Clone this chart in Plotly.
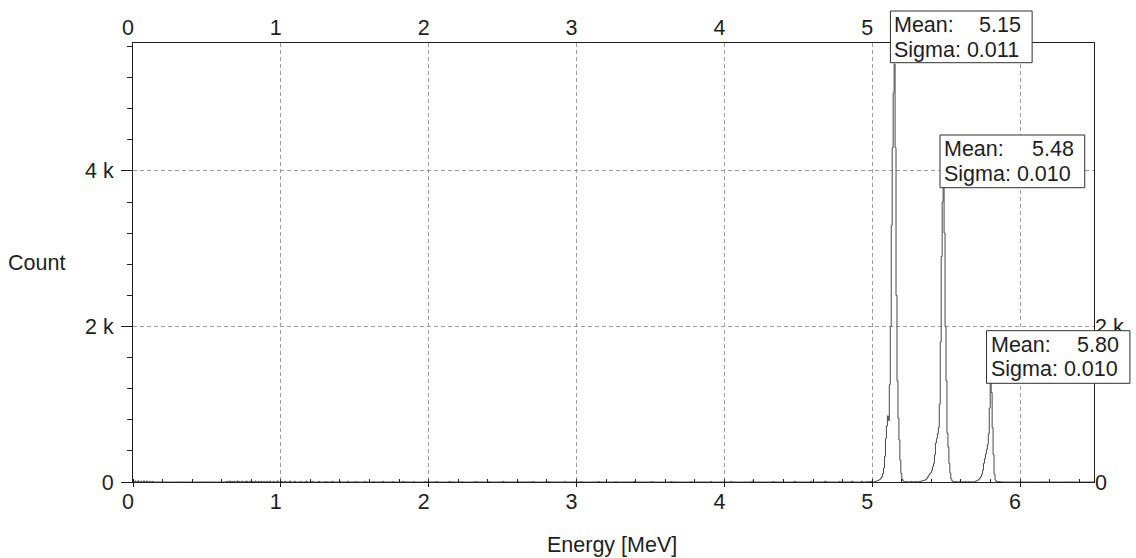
import numpy as np
import plotly.graph_objects as go

# Spectrum binning: 1000 channels over 0 - 6.5 MeV
E_MIN, E_MAX, N_BINS = 0.0, 6.5, 1000

# Sparse low-level counts: (channel, counts)
noise = [
    (2, 14), (5, 16), (8, 12), (11, 15), (14, 13), (17, 10), (20, 8),
    (97, 6), (99, 9), (101, 12), (103, 8), (105, 10), (108, 14), (110, 9),
    (113, 11), (116, 8), (118, 12), (121, 10), (124, 7), (127, 13), (130, 9),
    (133, 11), (136, 8), (139, 10), (142, 12), (146, 9), (150, 14), (154, 8),
    (158, 10), (163, 12), (168, 9), (174, 7), (180, 11), (186, 8), (193, 10),
    (200, 6), (207, 9), (215, 7), (223, 10), (232, 6), (241, 8), (250, 5),
    (260, 9), (270, 6), (281, 7), (292, 5), (304, 8), (316, 6), (329, 7),
    (342, 5), (356, 6), (370, 4), (385, 7), (400, 5), (416, 6), (432, 4),
    (449, 6), (466, 5), (484, 7), (502, 4), (521, 6), (540, 5), (560, 7),
    (580, 5), (601, 8), (622, 6), (644, 9), (666, 7), (688, 10), (705, 8),
    (720, 11), (735, 9), (748, 12), (758, 10), (763, 6), (766, 8), (768, 7),
    (804, 6), (806, 4), (809, 8), (811, 5), (814, 7), (816, 4),
    (855, 6), (857, 4), (860, 7), (863, 5), (866, 8), (869, 5), (872, 4),
    (899, 4), (901, 6), (903, 3),
]

# Pu-239 group (5.15 MeV): first channel and counts per channel
pu_start = 772
pu_counts = [8, 12, 15, 20, 28, 36, 50, 70, 110, 180, 330, 560, 720, 850, 790,
             1250, 2000, 3300, 4300, 5000, 5376, 4300, 2400, 1300, 820, 540,
             280, 110, 40, 15, 5]

# Am-241 group (5.48 MeV)
am_start = 818
am_counts = [5, 8, 12, 15, 18, 22, 25, 35, 50, 70, 90, 110, 120, 150, 200, 240,
             350, 500, 560, 620, 700, 1000, 1800, 2900, 3600, 3800, 3200, 2000,
             1300, 630, 450, 240, 115, 40, 15, 5]

# Cm-244 group (5.80 MeV)
cm_start = 875
cm_counts = [5, 8, 12, 18, 25, 35, 50, 70, 100, 150, 240, 300, 360, 420, 480,
             620, 950, 1270, 1150, 700, 350, 100, 25, 8]

# Gaussian fit results per peak
fit_means = [5.15, 5.48, 5.80]
fit_sigmas = [0.011, 0.010, 0.010]

# Axis ticks
x_ticks = [0, 1, 2, 3, 4, 5, 6]
y_ticks = [0, 2000, 4000]
y_ticktext = ["0", "2 k", "4 k"]
y2_ticks = [0, 2000]
y2_ticktext = ["0", "2 k"]
Y_MAX = 5645

# ---- build the histogram ----
counts = np.zeros(N_BINS)
for ch, c in noise:
    counts[ch] = c
for start, vals in ((pu_start, pu_counts), (am_start, am_counts), (cm_start, cm_counts)):
    counts[start:start + len(vals)] = vals

edges = np.linspace(E_MIN, E_MAX, N_BINS + 1)
step_y = np.append(counts, counts[-1])

FONT = "Liberation Sans, Arial, sans-serif"
FS = 21.5
TXT = "#1e1e1e"
AX = "#202020"
GRID = "#9c9c9c"

W_FIG, H_FIG = 1136, 558
L, R, T, B = 133, 40, 43, 76
PW, PH = W_FIG - L - R, H_FIG - T - B


def px_x(px):
    return (px - L) / PW


def px_y(py):
    return (H_FIG - B - py) / PH


fig = go.Figure()
fig.add_trace(go.Scatter(
    x=edges, y=step_y, mode="lines", line=dict(shape="hv", color="#484848", width=1),
    hoverinfo="skip", showlegend=False,
))
# carrier for the top and right axes
fig.add_trace(go.Scatter(
    x=[0], y=[0], xaxis="x2", yaxis="y2", mode="lines", line=dict(width=0),
    hoverinfo="skip", showlegend=False,
))

tickfont = dict(family=FONT, size=FS, color=TXT)

fig.update_layout(
    width=W_FIG, height=H_FIG,
    margin=dict(l=L, r=R, t=T, b=B, pad=0),
    paper_bgcolor="white", plot_bgcolor="white",
    showlegend=False,
    xaxis=dict(
        range=[E_MIN, E_MAX], tickvals=x_ticks, ticks="outside", ticklen=4,
        tickcolor=AX, tickwidth=1, showline=True, linecolor=AX, linewidth=1,
        mirror=True, showgrid=True, gridcolor=GRID, gridwidth=1, griddash="4px,3px",
        zeroline=False, tickfont=tickfont, ticklabelshift=-5, ticklabelstandoff=-4,
        minor=dict(dtick=0.2, ticks="inside", ticklen=3, tickcolor=AX, showgrid=False),
    ),
    yaxis=dict(
        range=[0, Y_MAX], tickvals=y_ticks, ticktext=y_ticktext, ticks="outside",
        ticklen=11, tickcolor=AX, tickwidth=1, showline=True, linecolor=AX,
        linewidth=1, mirror=True, showgrid=True, gridcolor=GRID, gridwidth=1,
        griddash="4px,3px", zeroline=False, tickfont=tickfont, ticklabelstandoff=3,
        minor=dict(dtick=400, ticks="outside", ticklen=5, tickcolor=AX, showgrid=False),
    ),
    xaxis2=dict(
        range=[E_MIN, E_MAX], tickvals=x_ticks, overlaying="x", side="top",
        anchor="y2", ticks="", showline=False, showgrid=False, zeroline=False,
        tickfont=tickfont, ticklabelshift=-5, ticklabelstandoff=3,
    ),
    yaxis2=dict(
        range=[0, Y_MAX], tickvals=y2_ticks, ticktext=y2_ticktext, overlaying="y",
        side="right", anchor="x2", ticks="", showline=False, showgrid=False,
        zeroline=False, tickfont=tickfont,
    ),
)

# axis titles
fig.add_annotation(text="Count", xref="paper", yref="paper", x=px_x(6), y=px_y(263),
                   xanchor="left", yanchor="middle", showarrow=False,
                   font=dict(family=FONT, size=FS, color=TXT))
fig.add_annotation(text="Energy [MeV]", xref="paper", yref="paper", x=px_x(613),
                   y=px_y(545), xanchor="center", yanchor="middle", showarrow=False,
                   font=dict(family=FONT, size=FS, color=TXT))

# fit result boxes: (left, top, right, bottom) in pixels
boxes = [(892, 11, 1034, 62.7), (941.7, 135, 1086.7, 187.7), (988.3, 330.7, 1132, 383.3)]
for (bl, bt, br, bb), m, s in zip(boxes, fit_means, fit_sigmas):
    fig.add_shape(type="rect", xref="paper", yref="paper", x0=px_x(bl), x1=px_x(br),
                  y0=px_y(bb), y1=px_y(bt), fillcolor="white",
                  line=dict(color="#303030", width=1), layer="above")
    y_mean = px_y(bt + 21.5 - 7.5)
    y_sigma = px_y(bt + 46 - 7.5)
    fig.add_annotation(text="Mean:", xref="paper", yref="paper", x=px_x(bl + 2),
                       y=y_mean, xanchor="left", yanchor="middle", showarrow=False,
                       font=dict(family=FONT, size=FS, color=TXT))
    fig.add_annotation(text=f"{m:.2f}", xref="paper", yref="paper", x=px_x(br - 9),
                       y=y_mean, xanchor="right", yanchor="middle", showarrow=False,
                       font=dict(family=FONT, size=FS, color=TXT))
    fig.add_annotation(text=f"Sigma: {s:.3f}", xref="paper", yref="paper",
                       x=px_x(bl + 2), y=y_sigma, xanchor="left", yanchor="middle",
                       showarrow=False, font=dict(family=FONT, size=FS, color=TXT))

fig.write_html("out.html")
